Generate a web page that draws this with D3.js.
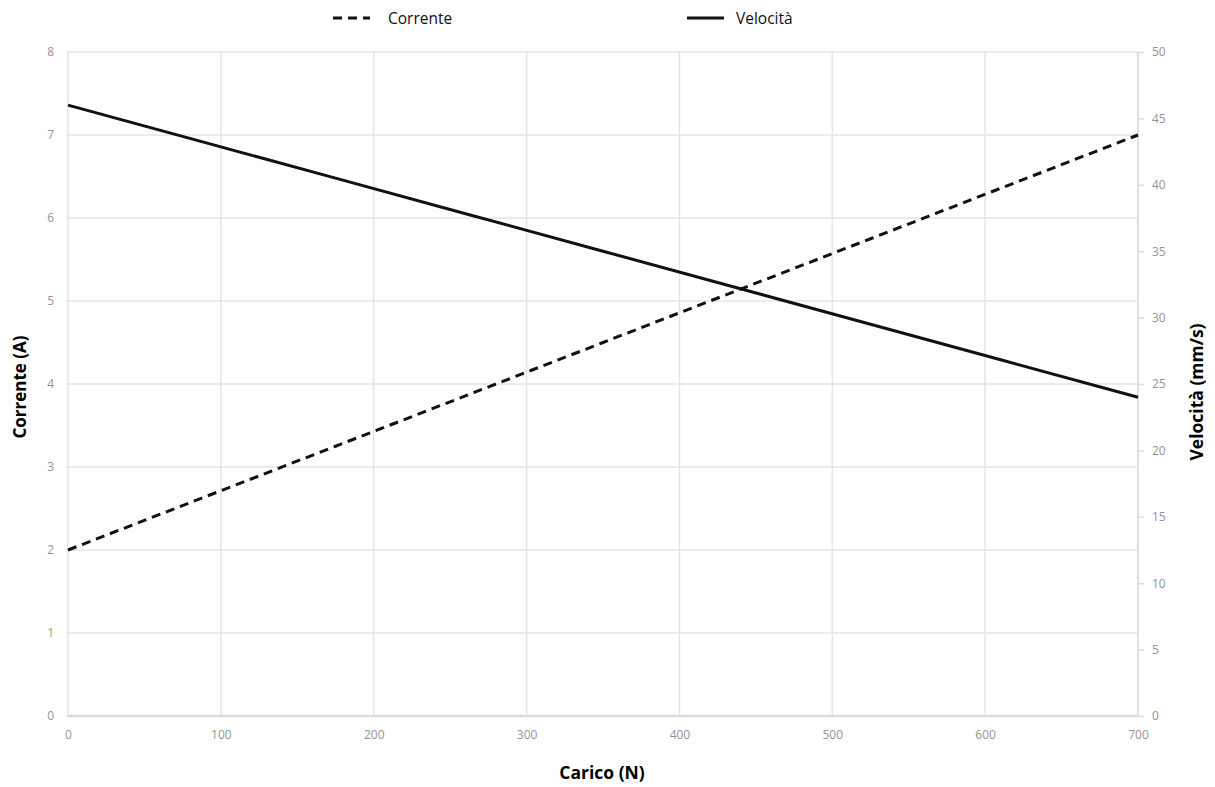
<!DOCTYPE html>
<html><head><meta charset="utf-8">
<script src="https://cdn.jsdelivr.net/npm/d3@7"></script>
<style>body{margin:0;background:#fff}svg{display:block}</style>
</head><body>
<svg id="c" width="1215" height="787"></svg>
<script>
const carico = [0, 87.5, 175, 262.5, 350, 437.5, 525, 612.5, 700];
const corrente = [2.0, 2.625, 3.25, 3.875, 4.5, 5.125, 5.75, 6.375, 7.0];
const velocita = [46.0, 43.25, 40.5, 37.75, 35.0, 32.25, 29.5, 26.75, 24.0];
const xTicks = [0, 100, 200, 300, 400, 500, 600, 700];
const leftTicks = [0, 1, 2, 3, 4, 5, 6, 7, 8];
const rightTicks = [0, 5, 10, 15, 20, 25, 30, 35, 40, 45, 50];
const seriesNames = ["Corrente", "Velocità"];

const svg = d3.select("#c");
const L = 68, R = 1138, T = 52, B = 716;
const x = d3.scaleLinear().domain([0, 700]).range([L, R]);
const yL = d3.scaleLinear().domain([0, 8]).range([B, T]);
const yR = d3.scaleLinear().domain([0, 50]).range([B, T]);
const font = "'Open Sans', 'DejaVu Sans', sans-serif";
const grid = "#e4e4e4", tickCol = "#949494";

// grid
svg.append("g").selectAll("line").data(xTicks).join("line")
  .attr("x1", d => x(d)).attr("x2", d => x(d)).attr("y1", T).attr("y2", B)
  .attr("stroke", grid).attr("stroke-width", 1.5);
svg.append("g").selectAll("line").data(leftTicks).join("line")
  .attr("x1", L - 2).attr("x2", R).attr("y1", d => yL(d)).attr("y2", d => yL(d))
  .attr("stroke", grid).attr("stroke-width", 1.5);
svg.append("line").attr("x1", L).attr("x2", R).attr("y1", B).attr("y2", B)
  .attr("stroke", "#dcdcdc").attr("stroke-width", 2.5);
svg.append("line").attr("x1", R).attr("x2", R).attr("y1", T).attr("y2", B)
  .attr("stroke", "#dcdcdc").attr("stroke-width", 1.5);

// axes
const ax = svg.append("g").attr("transform", `translate(0,${B})`)
  .call(d3.axisBottom(x).tickValues(xTicks).tickSize(0).tickPadding(14));
const ayl = svg.append("g").attr("transform", `translate(${L},0)`)
  .call(d3.axisLeft(yL).tickValues(leftTicks).tickSize(0).tickPadding(14));
const ayr = svg.append("g").attr("transform", `translate(${R},0)`)
  .call(d3.axisRight(yR).tickValues(rightTicks).tickSize(6).tickPadding(8));
[ax, ayl, ayr].forEach(g => {
  g.select(".domain").remove();
  g.selectAll(".tick line").attr("stroke", "#dcdcdc").attr("stroke-width", 1.5);
  g.selectAll("text").attr("fill", tickCol).attr("font-size", 12).attr("font-family", font);
});

// lines
const lineL = d3.line().x((d, i) => x(carico[i])).y(d => yL(d));
const lineR = d3.line().x((d, i) => x(carico[i])).y(d => yR(d));
svg.append("path").attr("d", lineL(corrente)).attr("fill", "none")
  .attr("stroke", "#111").attr("stroke-width", 3).attr("stroke-dasharray", "9,6");
svg.append("path").attr("d", lineR(velocita)).attr("fill", "none")
  .attr("stroke", "#111").attr("stroke-width", 3);

// legend
const leg = [{name: seriesNames[0], x1: 333, dash: "9,6", tx: 388},
             {name: seriesNames[1], x1: 687, dash: null, tx: 736}];
leg.forEach(l => {
  svg.append("line").attr("x1", l.x1).attr("x2", l.x1 + 37).attr("y1", 18).attr("y2", 18)
    .attr("stroke", "#111").attr("stroke-width", 3).attr("stroke-dasharray", l.dash);
  svg.append("text").attr("x", l.tx).attr("y", 24).text(l.name)
    .attr("font-family", font).attr("font-size", 15.5).attr("fill", "#111");
});

// axis titles
svg.append("text").attr("transform", "translate(26,387) rotate(-90)").attr("text-anchor", "middle")
  .attr("font-family", font).attr("font-weight", "bold").attr("font-size", 17).text("Corrente (A)");
svg.append("text").attr("transform", "translate(1203,392) rotate(-90)").attr("text-anchor", "middle")
  .attr("font-family", font).attr("font-weight", "bold").attr("font-size", 17.5).text("Velocità (mm/s)");
svg.append("text").attr("x", 602).attr("y", 779).attr("text-anchor", "middle")
  .attr("font-family", font).attr("font-weight", "bold").attr("font-size", 17.5).text("Carico (N)");
</script>
</body></html>
